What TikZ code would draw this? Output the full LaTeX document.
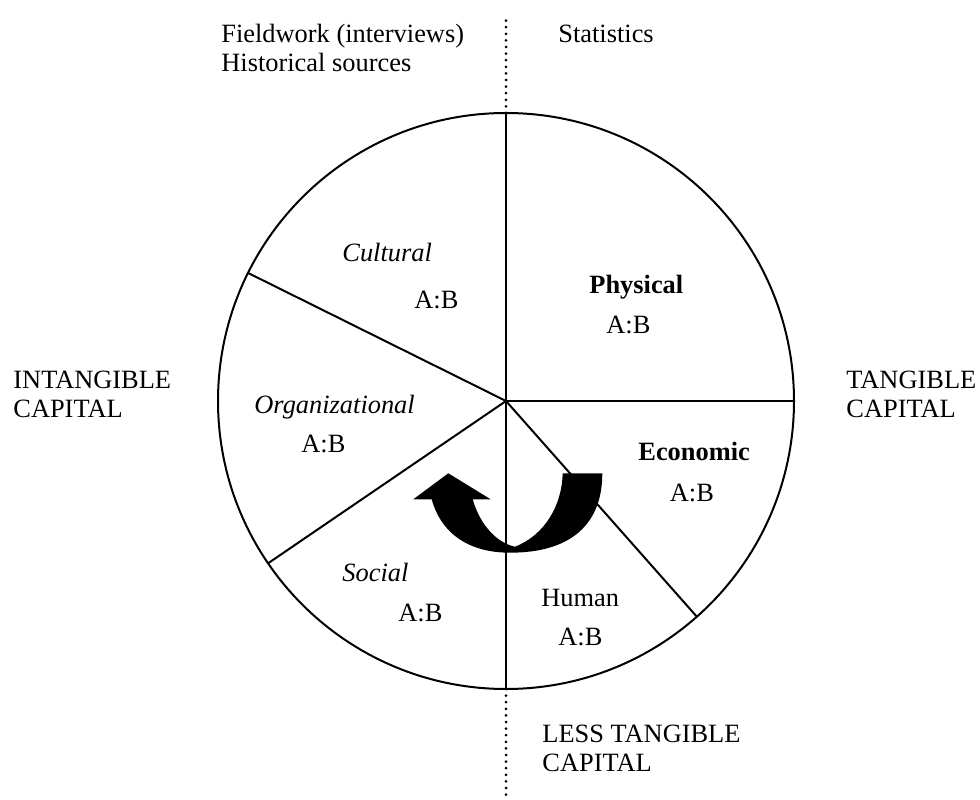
\documentclass[tikz,border=0pt]{standalone}
\usepackage{fontspec}
\setmainfont{Liberation Serif}
\begin{document}
\begin{tikzpicture}[x=0.5pt, y=0.5pt]
        \tikzset{
            txt/.style={
                    anchor=base west,
                    inner sep=0pt,
                    align=left,
                    font=\fontsize{13.2}{14.8}\selectfont,
                },
            divider/.style={line width=1pt},
            axis/.style={line width=1.5pt, line cap=round, dash pattern=on 0pt off 3.3pt},
            turn/.style={fill=black, draw=none},
        }
        \useasboundingbox (0, 0) rectangle (980, 799);
        % \draw (0, 0) grid[step=100] (980, 799);
        \coordinate (c) at (506, 398);
        \coordinate (top) at (506, 783);
        \coordinate (bot) at (506, 0);
        \draw[divider] (c) circle[radius=288];
        \draw[axis] (c) ++(90:288) -- (top);
        \draw[axis] (c) ++(-90:288) -- (bot);
        \draw[divider] (c) -- ++(90:288);
        \draw[divider] (c) -- ++(0:288);
        \draw[divider] (c) -- ++(-48.5:288);
        \draw[divider] (c) -- ++(-90:288);
        \draw[divider] (c) -- ++(214.3:288);
        \draw[divider] (c) -- ++(153.6:288);
        % outside labels (base = last line)
        \node[txt] (field) at (221, 727) {Fieldwork (interviews)\\Historical sources};
        \node[txt] (stat) at (558, 756) {Statistics};
        \node[txt] (intang) at (13, 381) {INTANGIBLE\\CAPITAL};
        \node[txt] (tang) at (846, 381) {TANGIBLE\\CAPITAL};
        \node[txt] (less) at (542, 27.3) {LESS TANGIBLE\\CAPITAL};
        % sectors
        \node[txt] (cult) at (342, 537) {\itshape Cultural};
        \node[txt] (cultab) at (414, 490) {A:B};
        \node[txt] (phys) at (589, 505) {\bfseries Physical};
        \node[txt] (physab) at (606, 465) {A:B};
        \node[txt] (org) at (254, 386) {\itshape Organizational};
        \node[txt] (orgab) at (301, 346) {A:B};
        \node[txt] (econ) at (638, 338) {\bfseries Economic};
        \node[txt] (econab) at (669.5, 298) {A:B};
        \node[txt] (soc) at (342, 217.5) {\itshape Social};
        \node[txt] (socab) at (398, 177.5) {A:B};
        \node[txt] (hum) at (541, 192.5) {Human};
        \node[txt] (humab) at (558, 154) {A:B};
        % u-turn arrow
        \fill[turn] (602.3, 325.7) .. controls (602.3, 274) and (570, 246.3) .. (510, 246.3)
            .. controls (465, 246.3) and (440, 269) .. (431.7, 299.7)
            -- (413.3, 299.7) -- (448.3, 325.7) -- (490.7, 299.7) -- (472.7, 299.7)
            .. controls (480, 274) and (497, 256) .. (515, 252.3)
            .. controls (545, 264) and (562, 294) .. (562.7, 325.7) -- cycle;
    \end{tikzpicture}
\end{document}
